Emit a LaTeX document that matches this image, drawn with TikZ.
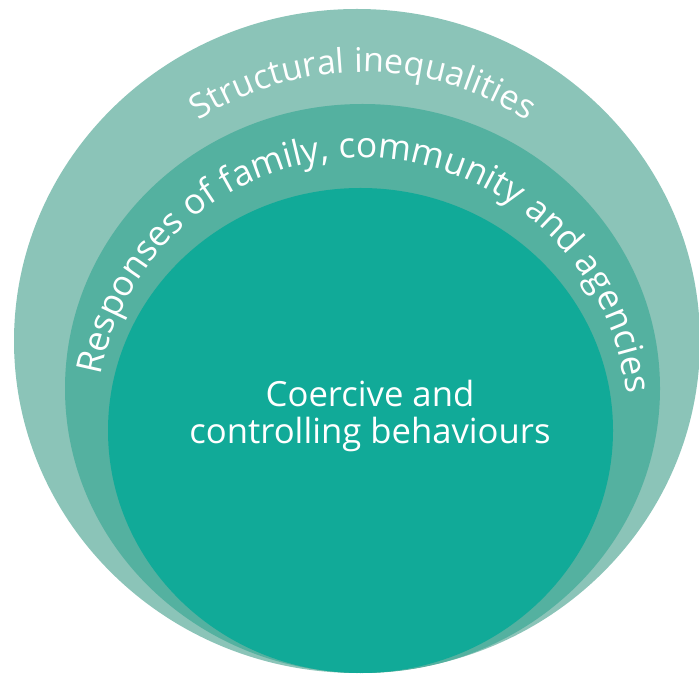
\documentclass[tikz,border=0pt]{standalone}
\usepackage{fontspec}
\setmainfont{Open Sans}
\usepackage{tikz}
\usetikzlibrary{decorations.text}
\definecolor{ringout}{RGB}{139,196,184}
\definecolor{ringmid}{RGB}{84,177,160}
\definecolor{ringcore}{RGB}{17,170,152}
\tikzset{ringtext/.style={decorate, decoration={text along path, text align=center, text color=white}}}

\begin{document}
\begin{tikzpicture}[x=0.75pt, y=0.75pt]       % three nested rings
    \useasboundingbox (0,0) rectangle (699,675);
    \clip (0,0) rectangle (699,675);

    \fill[ringout] (357,334) ellipse [x radius=343, y radius=332];
    \fill[ringmid] (362.5,286.5) ellipse [x radius=297.5, y radius=284.5];
    \fill[ringcore] (360.5,244.5) ellipse [x radius=252.5, y radius=242.5];

    % labels bent along the rings
    \path[ringtext, decoration={text={|\fontsize{25.5}{30}\selectfont|Structural inequalities}}]
        (363,303) ++(170:300) arc[start angle=170, end angle=10, radius=300];
    \path[ringtext, decoration={text={|\fontsize{26.5}{30}\selectfont|Responses of family, community and agencies}}]
        (362,251) ++(185:266) arc[start angle=185, end angle=-9, radius=266];

    \node[align=center, text=white, inner sep=0pt, font=\fontsize{26}{27.75}\selectfont]
        at (370,259.5) (core) {Coercive and\\controlling behaviours};
\end{tikzpicture}
\end{document}
